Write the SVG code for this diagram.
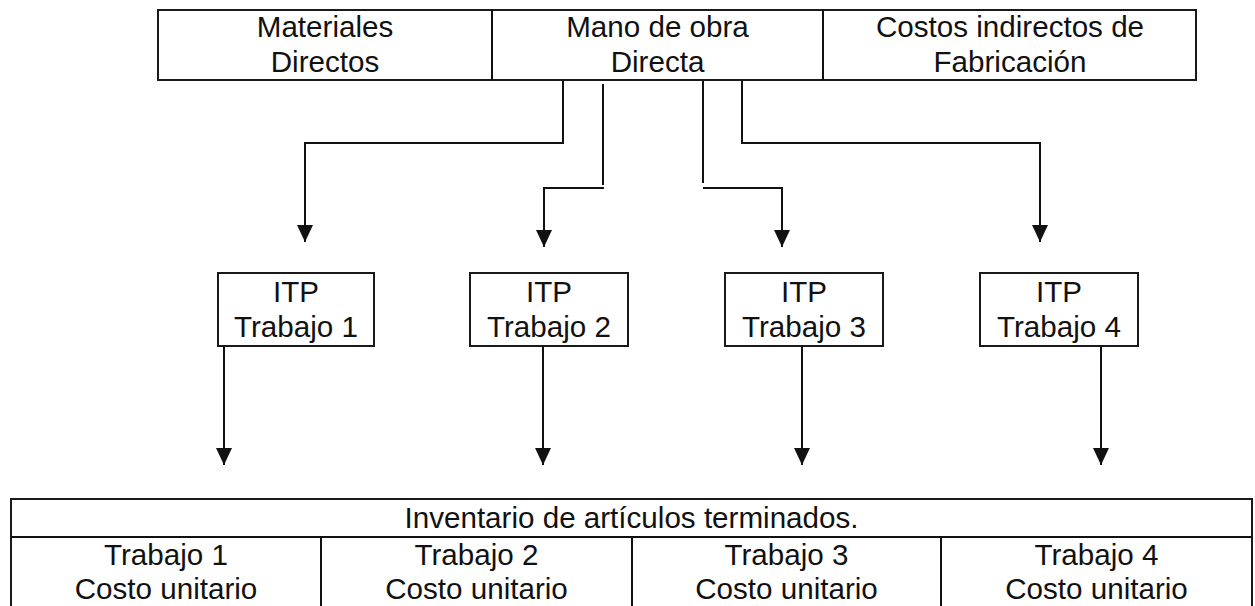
<svg xmlns="http://www.w3.org/2000/svg" width="1255" height="606" viewBox="0 0 1255 606">
<style>
.box{fill:#fff;stroke:#1a1a1a;stroke-width:2}
.ln{fill:none;stroke:#111;stroke-width:2}
.t{font-family:"Liberation Sans",Arial,sans-serif;font-size:29.6px;fill:#111;text-anchor:middle}
</style>
<defs>
<marker id="ah" viewBox="0 0 17 16" refX="17" refY="8" markerWidth="17" markerHeight="16" markerUnits="userSpaceOnUse" orient="auto">
<path d="M0,0 L17,8 L0,16 z" fill="#111"/>
</marker>
</defs>
<rect width="1255" height="606" fill="#fff"/>
<g id="top">
<rect class="box" x="158" y="10" width="1038" height="70"/>
<line class="ln" x1="492" y1="10" x2="492" y2="80"/>
<line class="ln" x1="823" y1="10" x2="823" y2="80"/>
<text class="t" x="325" y="36.5">Materiales</text>
<text class="t" x="325" y="71.5">Directos</text>
<text class="t" x="657.5" y="36.5">Mano de obra</text>
<text class="t" x="657.5" y="71.5">Directa</text>
<text class="t" x="1010" y="36.5">Costos indirectos de</text>
<text class="t" x="1010" y="71.5">Fabricación</text>
</g>
<g id="itp1">
<rect class="box" x="218" y="273" width="156" height="73"/>
<text class="t" x="296" y="301.5">ITP</text>
<text class="t" x="296" y="336.5">Trabajo 1</text>
</g>
<g id="itp2">
<rect class="box" x="470" y="273" width="158" height="73"/>
<text class="t" x="549" y="301.5">ITP</text>
<text class="t" x="549" y="336.5">Trabajo 2</text>
</g>
<g id="itp3">
<rect class="box" x="725" y="273" width="158" height="73"/>
<text class="t" x="804" y="301.5">ITP</text>
<text class="t" x="804" y="336.5">Trabajo 3</text>
</g>
<g id="itp4">
<rect class="box" x="980" y="273" width="158" height="73"/>
<text class="t" x="1059" y="301.5">ITP</text>
<text class="t" x="1059" y="336.5">Trabajo 4</text>
</g>
<g id="inventario">
<rect class="box" x="11" y="499" width="1241" height="120"/>
<line class="ln" x1="11" y1="537" x2="1252" y2="537"/>
<line class="ln" x1="321" y1="537" x2="321" y2="619"/>
<line class="ln" x1="632" y1="537" x2="632" y2="619"/>
<line class="ln" x1="941" y1="537" x2="941" y2="619"/>
<text class="t" x="631.5" y="528">Inventario de artículos terminados.</text>
<text class="t" x="166" y="565">Trabajo 1</text>
<text class="t" x="166" y="599">Costo unitario</text>
<text class="t" x="476.5" y="565">Trabajo 2</text>
<text class="t" x="476.5" y="599">Costo unitario</text>
<text class="t" x="786.5" y="565">Trabajo 3</text>
<text class="t" x="786.5" y="599">Costo unitario</text>
<text class="t" x="1096.5" y="565">Trabajo 4</text>
<text class="t" x="1096.5" y="599">Costo unitario</text>
</g>
<g id="connectors">
<polyline class="ln" points="563,81 563,143 305,143 305,242" marker-end="url(#ah)"/>
<line class="ln" x1="603" y1="84" x2="603" y2="185"/>
<polyline class="ln" points="604,188 544,188 544,247" marker-end="url(#ah)"/>
<line class="ln" x1="703" y1="81" x2="703" y2="183"/>
<polyline class="ln" points="703,188 782,188 782,247" marker-end="url(#ah)"/>
<polyline class="ln" points="742,81 742,143 1040,143 1040,242" marker-end="url(#ah)"/>
<line class="ln" x1="224" y1="346" x2="224" y2="465" marker-end="url(#ah)"/>
<line class="ln" x1="543" y1="346" x2="543" y2="465" marker-end="url(#ah)"/>
<line class="ln" x1="802" y1="346" x2="802" y2="465" marker-end="url(#ah)"/>
<line class="ln" x1="1101" y1="346" x2="1101" y2="465" marker-end="url(#ah)"/>
</g>
</svg>
